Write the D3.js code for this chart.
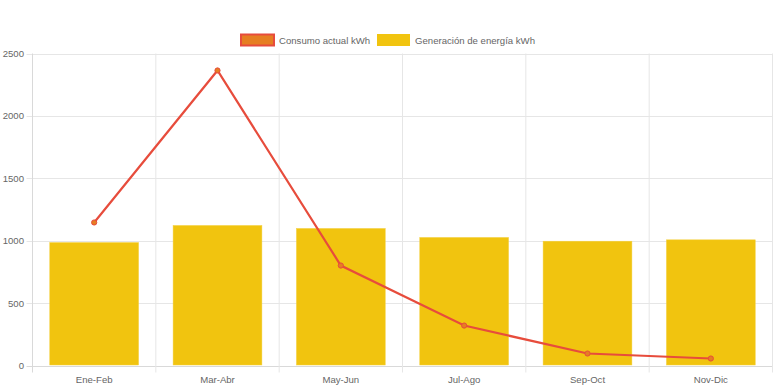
<!DOCTYPE html>
<html><head><meta charset="utf-8">
<script src="https://cdn.jsdelivr.net/npm/d3@7"></script>
<style>body{margin:0;background:#fff}svg{display:block}text{font-family:"Liberation Sans",Arial,Helvetica,sans-serif}</style>
</head><body><svg id="c" width="776" height="388"></svg>
<script>
const categories = ["Ene-Feb","Mar-Abr","May-Jun","Jul-Ago","Sep-Oct","Nov-Dic"];
const consumo = [1146, 2364, 801, 320, 96, 56];
const generacion = [985, 1122, 1098, 1026, 996, 1007];
const yTicks = [0, 500, 1000, 1500, 2000, 2500];
const seriesNames = ["Consumo actual kWh", "Generación de energía kWh"];

const svg = d3.select("#c");
const L = 32.5, R = 772.5, T = 53.5, B = 365.5;
const x = d3.scaleBand().domain(categories).range([L, R]).paddingInner(0).paddingOuter(0);
const y = d3.scaleLinear().domain([0, 2500]).range([B, T]);
const grid = "#e6e6e6";
const fs = 9.6;

// horizontal grid
svg.append("g").selectAll("line").data(yTicks).join("line")
  .attr("x1", L - 6).attr("x2", R).attr("y1", d => Math.round(y(d)) + 0.5).attr("y2", d => Math.round(y(d)) + 0.5)
  .attr("stroke", d => d === 0 ? "#d9d9d9" : grid).attr("stroke-width", 1);
// vertical grid
const vx = categories.map(c => x(c)).concat([R]);
svg.append("g").selectAll("line").data(vx).join("line")
  .attr("x1", d => d).attr("x2", d => d).attr("y1", T).attr("y2", B + 7)
  .attr("stroke", (d, i) => i === 0 ? "#d9d9d9" : grid);

// y labels
svg.append("g").selectAll("text").data(yTicks).join("text")
  .attr("x", 24).attr("y", d => y(d) + 3.5).attr("text-anchor", "end")
  .attr("font-size", fs).attr("fill", "#666").text(d => d);
// x labels
svg.append("g").selectAll("text").data(categories).join("text")
  .attr("x", d => x(d) + x.bandwidth() / 2).attr("y", 382.5).attr("text-anchor", "middle")
  .attr("font-size", fs).attr("fill", "#666").text(d => d);

// bars
const bw = x.bandwidth() * 0.72;
svg.append("g").selectAll("rect").data(generacion).join("rect")
  .attr("x", (d, i) => x(categories[i]) + (x.bandwidth() - bw) / 2)
  .attr("width", bw)
  .attr("y", d => y(d)).attr("height", d => B - 0.5 - y(d))
  .attr("fill", "#f1c40f").attr("stroke", "#f4d03f").attr("stroke-width", 0.5);

// line
const cx = i => x(categories[i]) + x.bandwidth() / 2;
const line = d3.line().x((d, i) => cx(i)).y(d => y(d));
svg.append("path").datum(consumo).attr("d", line)
  .attr("fill", "none").attr("stroke", "#e74c3c").attr("stroke-width", 2.2);
svg.append("g").selectAll("circle").data(consumo).join("circle")
  .attr("cx", (d, i) => cx(i)).attr("cy", d => y(d)).attr("r", 2.6)
  .attr("fill", "#e67e22").attr("stroke", "#e74c3c").attr("stroke-width", 1);

// legend
const lg = svg.append("g");
lg.append("rect").attr("x", 241).attr("y", 34.5).attr("width", 33).attr("height", 11)
  .attr("fill", "#e67e22").attr("stroke", "#e74c3c").attr("stroke-width", 2);
lg.append("text").attr("x", 279).attr("y", 43.5).attr("font-size", fs).attr("fill", "#666").text(seriesNames[0]);
lg.append("rect").attr("x", 377).attr("y", 34).attr("width", 33).attr("height", 12).attr("fill", "#f1c40f");
lg.append("text").attr("x", 415).attr("y", 43.5).attr("font-size", fs).attr("fill", "#666").text(seriesNames[1]);
</script></body></html>
